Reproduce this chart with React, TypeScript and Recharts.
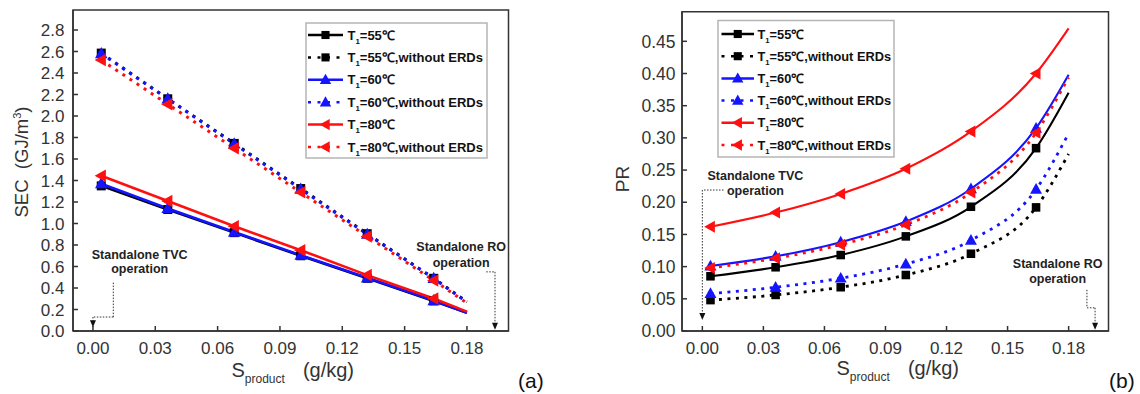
import React from 'react';
import { LineChart, Line, XAxis, YAxis, ReferenceArea, ReferenceLine, ReferenceDot } from 'recharts';

// ---------- data ----------
const sProduct = [0.004, 0.036, 0.068, 0.1, 0.132, 0.164, 0.18];
const xTicks = [0, 0.03, 0.06, 0.09, 0.12, 0.15, 0.18];
const secTicks = [0, 0.2, 0.4, 0.6, 0.8, 1.0, 1.2, 1.4, 1.6, 1.8, 2.0, 2.2, 2.4, 2.6, 2.8];
const prTicks = [0, 0.05, 0.1, 0.15, 0.2, 0.25, 0.3, 0.35, 0.4, 0.45];

const sec55 = [1.35, 1.13, 0.915, 0.70, 0.49, 0.28, 0.17];
const sec55NoErd = [2.585, 2.16, 1.745, 1.325, 0.905, 0.49, 0.27];
const sec60 = [1.37, 1.14, 0.92, 0.705, 0.495, 0.283, 0.17];
const sec60NoErd = [2.58, 2.16, 1.74, 1.32, 0.90, 0.49, 0.27];
const sec80 = [1.445, 1.21, 0.975, 0.752, 0.52, 0.303, 0.18];
const sec80NoErd = [2.52, 2.11, 1.70, 1.29, 0.88, 0.47, 0.26];

const pr55 = [0.085, 0.099, 0.118, 0.147, 0.193, 0.284, 0.370];
const pr55NoErd = [0.048, 0.056, 0.068, 0.087, 0.120, 0.192, 0.275];
const pr60 = [0.101, 0.116, 0.138, 0.170, 0.221, 0.315, 0.398];
const pr60NoErd = [0.058, 0.068, 0.082, 0.104, 0.141, 0.220, 0.307];
const pr80 = [0.162, 0.184, 0.213, 0.252, 0.310, 0.400, 0.470];
const pr80NoErd = [0.098, 0.113, 0.134, 0.165, 0.215, 0.308, 0.394];

const tempLabels = ['55℃', '55℃,without ERDs', '60℃', '60℃,without ERDs', '80℃', '80℃,without ERDs'];

// ---------- styling ----------
const FONT = '"Liberation Sans", Arial, Helvetica, sans-serif';
const AXIS = '#333';
const BLACK = '#000000';
const BLUE = '#1414ff';
const RED = '#ff1010';

type Marker = 'square' | 'triUp' | 'triLeft';

interface SeriesDef {
  key: string;
  color: string;
  marker: Marker;
  dotted: boolean;
  label: string;
}

const seriesDefs: SeriesDef[] = [
  { key: 's55', color: BLACK, marker: 'square', dotted: false, label: tempLabels[0] },
  { key: 's55n', color: BLACK, marker: 'square', dotted: true, label: tempLabels[1] },
  { key: 's60', color: BLUE, marker: 'triUp', dotted: false, label: tempLabels[2] },
  { key: 's60n', color: BLUE, marker: 'triUp', dotted: true, label: tempLabels[3] },
  { key: 's80', color: RED, marker: 'triLeft', dotted: false, label: tempLabels[4] },
  { key: 's80n', color: RED, marker: 'triLeft', dotted: true, label: tempLabels[5] },
];

const secData = sProduct.map((s, i) => ({
  s,
  s55: sec55[i], s55n: sec55NoErd[i],
  s60: sec60[i], s60n: sec60NoErd[i],
  s80: sec80[i], s80n: sec80NoErd[i],
}));

const prData = sProduct.map((s, i) => ({
  s,
  s55: pr55[i], s55n: pr55NoErd[i],
  s60: pr60[i], s60n: pr60NoErd[i],
  s80: pr80[i], s80n: pr80NoErd[i],
}));

function markerShape(marker: Marker, cx: number, cy: number, color: string, size: number, key?: string) {
  if (marker === 'square') {
    const h = size * 0.45;
    return <rect key={key} x={cx - h} y={cy - h} width={2 * h} height={2 * h} fill={color} />;
  }
  if (marker === 'triUp') {
    const h = size * 0.6;
    return (
      <polygon key={key} fill={color}
        points={`${cx},${cy - h} ${cx - h * 0.95},${cy + h * 0.7} ${cx + h * 0.95},${cy + h * 0.7}`} />
    );
  }
  const h = size * 0.6;
  return (
    <polygon key={key} fill={color}
      points={`${cx - h},${cy} ${cx + h * 0.7},${cy - h * 0.95} ${cx + h * 0.7},${cy + h * 0.95}`} />
  );
}

const makeDot = (def: SeriesDef, size: number) => (p: any) => {
  const k = `${def.key}-${p.index}`;
  if (p.index === sProduct.length - 1 || p.cx == null || p.cy == null) return <g key={k} />;
  return markerShape(def.marker, p.cx, p.cy, def.color, size, k);
};

// ---------- annotation helpers ----------
const Arrow = (props: any) => {
  const { cx, cy } = props;
  return <polygon points={`${cx},${cy} ${cx - 3},${cy - 7} ${cx + 3},${cy - 7}`} fill="#111" />;
};

const makeText = (txt: string) => (props: any) => (
  <text x={props.cx} y={props.cy} textAnchor="middle" dominantBaseline="central"
    fontFamily={FONT} fontSize={12.5} fontWeight="bold" fill="#222">{txt}</text>
);

const dashLine = { stroke: '#333', strokeWidth: 1, strokeDasharray: '1.5 1.5' };

const xTickFmt = (v: number) => v.toFixed(2);

function Legend({ x, y, w, h, rowY0, gap, lineX0, lineX1, textX, fontSize }: any) {
  return (
    <g>
      <rect x={x} y={y} width={w} height={h} fill="#fff" stroke="#b5b5b5" strokeWidth={1.5} />
      {seriesDefs.map((d, i) => {
        const ry = rowY0 + i * gap;
        const mid = (lineX0 + lineX1) / 2;
        return (
          <g key={d.key}>
            <line x1={lineX0} x2={lineX1} y1={ry} y2={ry} stroke={d.color} strokeWidth={2.5}
              strokeDasharray={d.dotted ? '3 6.5' : undefined} />
            {markerShape(d.marker, mid, ry, d.color, d.marker === 'square' ? 9 : 10)}
            <text x={textX} y={ry + fontSize * 0.36} fontFamily={FONT} fontSize={fontSize}
              fontWeight="bold" fill="#111">
              T<tspan fontSize={fontSize * 0.6} dy={4}>1</tspan><tspan dy={-4}>={d.label}</tspan>
            </text>
          </g>
        );
      })}
    </g>
  );
}

const tickStyle = (fs: number) => ({ fill: '#333', fontSize: fs, fontFamily: FONT });

function LeftChart() {
  return (
    <LineChart width={560} height={394} data={secData}
      margin={{ top: 10, right: 51.5, bottom: 0, left: 0 }}>
      <XAxis dataKey="s" type="number" domain={[-0.0096, 0.2]} ticks={xTicks} allowDataOverflow
        interval={0} tickFormatter={xTickFmt} height={63} tickSize={-5} tickMargin={16}
        stroke={AXIS} strokeWidth={1.5} tick={tickStyle(17)} />
      <YAxis type="number" domain={[0, 2.986]} ticks={secTicks} allowDataOverflow width={73}
        interval={0} tickFormatter={(v: number) => v.toFixed(1)} tickSize={-5} tickMargin={13.5}
        stroke={AXIS} strokeWidth={1.5} tick={tickStyle(17)} />
      <ReferenceArea x1={-0.0096} x2={0.2} y1={0} y2={2.986} fill="none" stroke={AXIS}
        strokeWidth={1.5} ifOverflow="visible" />
      {seriesDefs.map((d) => (
        <Line key={d.key} dataKey={d.key} type="linear" stroke={d.color}
          strokeWidth={d.dotted ? 3 : 2.6} strokeDasharray={d.dotted ? '3 5.5' : undefined}
          dot={makeDot(d, d.marker === 'square' ? 10 : 11)} activeDot={false}
          isAnimationActive={false} />
      ))}
      {/* Standalone TVC annotation */}
      <ReferenceLine segment={[{ x: 0.0098, y: 0.45 }, { x: 0.0098, y: 0.13 }]} {...dashLine} />
      <ReferenceLine segment={[{ x: 0.0098, y: 0.13 }, { x: 0, y: 0.13 }]} {...dashLine} />
      <ReferenceLine segment={[{ x: 0, y: 0.13 }, { x: 0, y: 0.08 }]} {...dashLine} />
      <ReferenceDot x={0} y={0.035} r={0} shape={Arrow} />
      <ReferenceDot x={0.0225} y={0.707} r={0} shape={makeText('Standalone TVC')} />
      <ReferenceDot x={0.0225} y={0.577} r={0} shape={makeText('operation')} />
      {/* Standalone RO annotation */}
      <ReferenceLine segment={[{ x: 0.1893, y: 0.55 }, { x: 0.1935, y: 0.55 }]} {...dashLine} />
      <ReferenceLine segment={[{ x: 0.1935, y: 0.55 }, { x: 0.1935, y: 0.06 }]} {...dashLine} />
      <ReferenceDot x={0.1935} y={0.012} r={0} shape={Arrow} />
      <ReferenceDot x={0.1772} y={0.779} r={0} shape={makeText('Standalone RO')} />
      <ReferenceDot x={0.1772} y={0.635} r={0} shape={makeText('operation')} />
    </LineChart>
  );
}

function RightChart() {
  return (
    <LineChart width={570} height={394} data={prData}
      margin={{ top: 11.7, right: 31.5, bottom: 0, left: 0 }}>
      <XAxis dataKey="s" type="number" domain={[-0.01, 0.1996]} ticks={xTicks} allowDataOverflow
        interval={0} tickFormatter={xTickFmt} height={63} tickSize={-5} tickMargin={16}
        stroke={AXIS} strokeWidth={1.5} tick={tickStyle(17)} />
      <YAxis type="number" domain={[0, 0.496]} ticks={prTicks} allowDataOverflow width={112}
        interval={0} tickFormatter={(v: number) => v.toFixed(2)} tickSize={-5} tickMargin={11.5}
        stroke={AXIS} strokeWidth={1.5} tick={tickStyle(17.5)} />
      <ReferenceArea x1={-0.01} x2={0.1996} y1={0} y2={0.496} fill="none" stroke={AXIS}
        strokeWidth={1.5} ifOverflow="visible" />
      {seriesDefs.map((d) => (
        <Line key={d.key} dataKey={d.key} type="monotone" stroke={d.color}
          strokeWidth={d.dotted ? 2.8 : 2.1} strokeDasharray={d.dotted ? '3 5.5' : undefined}
          dot={makeDot(d, d.marker === 'square' ? 9.5 : 10.5)} activeDot={false}
          isAnimationActive={false} />
      ))}
      {/* Standalone TVC annotation */}
      <ReferenceLine segment={[{ x: 0.0104, y: 0.219 }, { x: 0, y: 0.219 }]} {...dashLine} />
      <ReferenceLine segment={[{ x: 0, y: 0.219 }, { x: 0, y: 0.028 }]} {...dashLine} />
      <ReferenceDot x={0} y={0.017} r={0} shape={Arrow} />
      <ReferenceDot x={0.0261} y={0.2415} r={0} shape={makeText('Standalone TVC')} />
      <ReferenceDot x={0.0261} y={0.2177} r={0} shape={makeText('operation')} />
      {/* Standalone RO annotation */}
      <ReferenceLine segment={[{ x: 0.189, y: 0.064 }, { x: 0.189, y: 0.036 }]} {...dashLine} />
      <ReferenceLine segment={[{ x: 0.189, y: 0.036 }, { x: 0.193, y: 0.036 }]} {...dashLine} />
      <ReferenceLine segment={[{ x: 0.193, y: 0.036 }, { x: 0.193, y: 0.012 }]} {...dashLine} />
      <ReferenceDot x={0.193} y={0.002} r={0} shape={Arrow} />
      <ReferenceDot x={0.1746} y={0.1042} r={0} shape={makeText('Standalone RO')} />
      <ReferenceDot x={0.1746} y={0.0804} r={0} shape={makeText('operation')} />
    </LineChart>
  );
}

function XTitle({ x, y }: { x: number; y: number }) {
  return (
    <text x={x} y={y} fontFamily={FONT} fontSize={20} fill="#333">
      S<tspan fontSize={12} dy={6}>product</tspan><tspan dx={18} dy={-6}>(g/kg)</tspan>
    </text>
  );
}

export default function App() {
  return (
    <div style={{ position: 'fixed', left: 0, top: 0, width: 1140, height: 394, background: '#fff', overflow: 'hidden' }}>
      <div style={{ position: 'absolute', left: 0, top: 0 }}><LeftChart /></div>
      <div style={{ position: 'absolute', left: 570, top: 0 }}><RightChart /></div>
      <svg width={1140} height={394} style={{ position: 'absolute', left: 0, top: 0, pointerEvents: 'none' }}>
        {/* left axis titles */}
        <text transform="translate(28,162) rotate(-90)" textAnchor="middle" fontFamily={FONT}
          fontSize={18.5} fill="#333" xmlSpace="preserve">
          SEC  (GJ/m<tspan fontSize={11} dy={-7}>3</tspan><tspan dy={7}>)</tspan>
        </text>
        <XTitle x={231.5} y={377} />
        <text x={518} y={388} fontFamily={FONT} fontSize={21} fill="#111">(a)</text>
        {/* right axis titles */}
        <text transform="translate(629,179) rotate(-90)" textAnchor="middle" fontFamily={FONT}
          fontSize={19} fill="#333">PR</text>
        <XTitle x={836.5} y={375} />
        <text x={1109} y={388} fontFamily={FONT} fontSize={21} fill="#111">(b)</text>
        <Legend x={306} y={23} w={181} h={135} rowY0={35} gap={22.4} lineX0={308} lineX1={343}
          textX={347.5} fontSize={13} />
        <Legend x={718} y={20.5} w={176} h={136.5} rowY0={34} gap={22.2} lineX0={721.5} lineX1={754}
          textX={757.5} fontSize={12.8} />
      </svg>
    </div>
  );
}
